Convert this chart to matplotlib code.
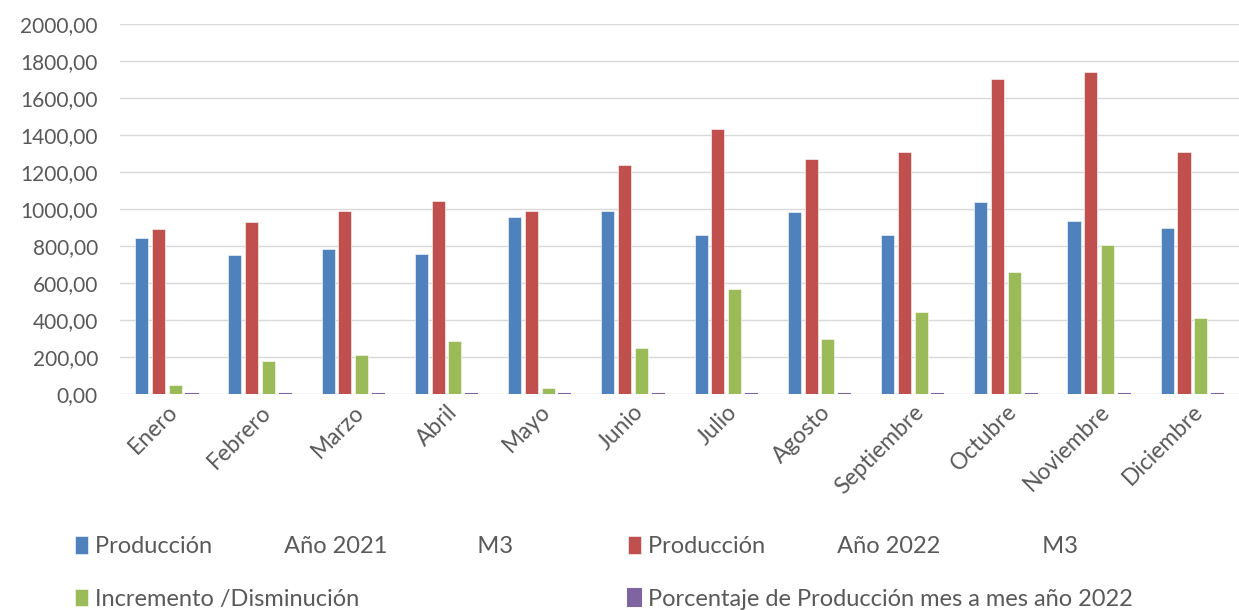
"""Producción mensual 2021 vs 2022 (M3), barras agrupadas."""
import matplotlib
matplotlib.use("Agg")
import matplotlib.pyplot as plt
from matplotlib.ticker import FuncFormatter
import numpy as np

MESES = ["Enero", "Febrero", "Marzo", "Abril", "Mayo", "Junio", "Julio",
         "Agosto", "Septiembre", "Octubre", "Noviembre", "Diciembre"]
PROD_2021 = [842, 751, 783, 758, 959, 990, 859, 983, 859, 1037, 936, 896]
PROD_2022 = [889, 929, 990, 1044, 990, 1237, 1431, 1267, 1307, 1701, 1741, 1307]
INCREMENTO = [47, 178, 209, 286, 32, 248, 565, 295, 441, 659, 803, 410]
PORCENTAJE = [1.06, 1.24, 1.26, 1.38, 1.03, 1.25, 1.67, 1.29, 1.52, 1.64, 1.86, 1.46]

LABELS = [
    "Producción            Año 2021               M3",
    "Producción            Año 2022                 M3",
    "Incremento /Disminución",
    "Porcentaje de Producción mes a mes año 2022",
]
COLORS = ["#4F81BD", "#C0504D", "#9BBB59", "#8064A2"]

plt.rcParams["font.family"] = ["Lato", "DejaVu Sans"]
plt.rcParams["text.color"] = "#595959"

fig = plt.figure(figsize=(12.39, 6.10), dpi=100)
ax = fig.add_axes([0.097, 0.354, 0.903, 0.607])

x = np.arange(len(MESES))
step = 0.18
width = 0.14
series = [PROD_2021, PROD_2022, INCREMENTO, PORCENTAJE]
handles = []
for i, (vals, col) in enumerate(zip(series, COLORS)):
    off = (i - 1.5) * step
    if i == 3:
        b = ax.bar(x + off, vals, width, color=col, edgecolor=col, linewidth=1.5, zorder=3)
    else:
        b = ax.bar(x + off, vals, width, color=col, edgecolor="white", linewidth=0.4, zorder=3)
    handles.append(b)

ax.set_xlim(-0.5, len(MESES) - 0.5)
ax.set_ylim(0, 2000)
ax.set_yticks(np.arange(0, 2001, 200))
ax.yaxis.set_major_formatter(FuncFormatter(lambda v, p: f"{v:.2f}".replace(".", ",")))
ax.grid(axis="y", color="#d9d9d9", linewidth=1, zorder=0)
for s in ax.spines.values():
    s.set_visible(False)
ax.tick_params(axis="y", length=0, labelsize=15, colors="#595959", pad=16)
ax.set_xticks(x)
ax.set_xticklabels(MESES, rotation=45, ha="right", rotation_mode="anchor", fontsize=16.5)
ax.tick_params(axis="x", length=0, colors="#595959", pad=5)

order = [0, 2, 1, 3]
leg = fig.legend([handles[k] for k in order], [LABELS[k] for k in order],
                 loc="upper left", bbox_to_anchor=(0.043, 0.156), ncol=2,
                 frameon=False, fontsize=17, handlelength=0.55, handleheight=0.75,
                 handletextpad=0.3, columnspacing=4.9, labelspacing=1.35)
for t in leg.get_texts():
    t.set_color("#595959")

fig.savefig("out.png", dpi=100)
